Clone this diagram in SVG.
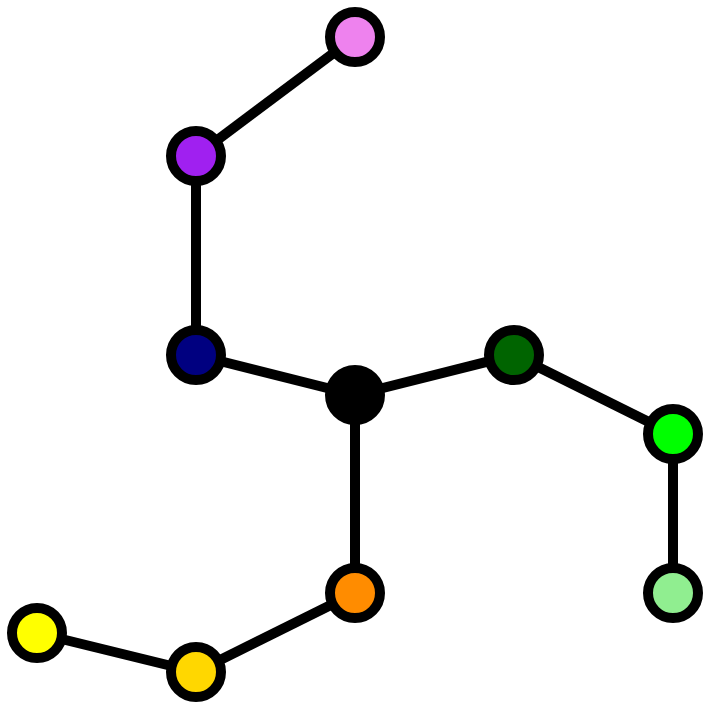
<svg xmlns="http://www.w3.org/2000/svg" width="710" height="710" viewBox="0 0 710 710">
<style>
.e{stroke:#000;stroke-width:10;fill:none}
.n{stroke:#000;stroke-width:10}
</style>
<rect width="710" height="710" fill="#fff"/>
<g id="edges">
<line class="e" x1="355" y1="37" x2="196" y2="156"/>
<line class="e" x1="196" y1="156" x2="196" y2="355"/>
<line class="e" x1="196" y1="355" x2="355" y2="395"/>
<line class="e" x1="355" y1="395" x2="514" y2="355"/>
<line class="e" x1="514" y1="355" x2="673" y2="434"/>
<line class="e" x1="673" y1="434" x2="673" y2="593"/>
<line class="e" x1="355" y1="395" x2="355" y2="593"/>
<line class="e" x1="355" y1="593" x2="196" y2="672"/>
<line class="e" x1="196" y1="672" x2="37" y2="633"/>
</g>
<g id="violet"><circle class="n" cx="355" cy="37" r="25" fill="#ee82ee"/></g>
<g id="purple"><circle class="n" cx="196" cy="156" r="25" fill="#a020f0"/></g>
<g id="navy"><circle class="n" cx="196" cy="355" r="25" fill="#000080"/></g>
<g id="center"><circle class="n" cx="355" cy="395" r="25" fill="#000"/></g>
<g id="darkgreen"><circle class="n" cx="514" cy="355" r="25" fill="#006400"/></g>
<g id="lime"><circle class="n" cx="673" cy="434" r="25" fill="#00ff00"/></g>
<g id="lightgreen"><circle class="n" cx="673" cy="593" r="25" fill="#90ee90"/></g>
<g id="orange"><circle class="n" cx="355" cy="593" r="25" fill="#ff8c00"/></g>
<g id="gold"><circle class="n" cx="196" cy="672" r="25" fill="#ffd700"/></g>
<g id="yellow"><circle class="n" cx="37" cy="633" r="25" fill="#ffff00"/></g>
</svg>
